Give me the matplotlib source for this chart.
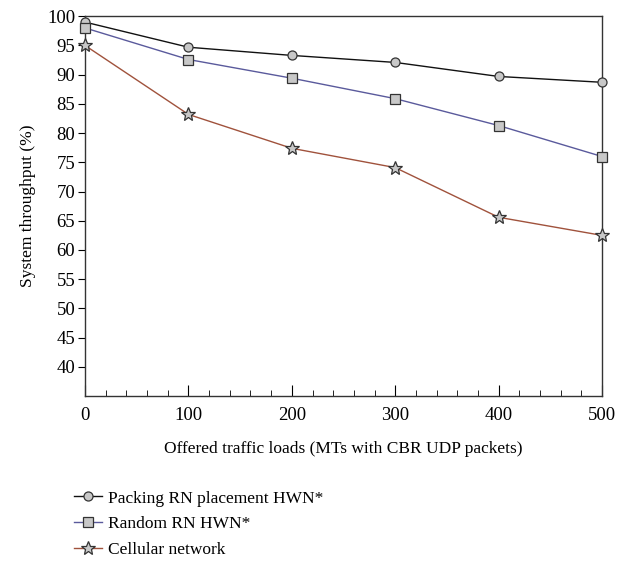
import numpy as np
import matplotlib.pyplot as plt
from matplotlib.ticker import MultipleLocator

plt.rcParams['font.family'] = ['Liberation Serif', 'DejaVu Serif']

loads = [0, 100, 200, 300, 400, 500]
packing = [99.0, 94.7, 93.3, 92.1, 89.7, 88.7]
random_rn = [98.0, 92.6, 89.4, 85.9, 81.3, 76.0]
cellular = [95.0, 83.2, 77.4, 74.1, 65.6, 62.5]

fig = plt.figure(figsize=(6.35, 5.61), dpi=100)
ax = fig.add_axes([0.134, 0.294, 0.814, 0.677])

mk = dict(markerfacecolor='#c8c8c8', markeredgecolor='#333333', markeredgewidth=0.9, clip_on=False, zorder=3)
ax.plot(loads, packing, color='#111111', lw=1.0, marker='o', markersize=6.5, label='Packing RN placement HWN*', **mk)
ax.plot(loads, random_rn, color='#5a5a9c', lw=1.0, marker='s', markersize=6.5, label='Random RN HWN*', **mk)
ax.plot(loads, cellular, color='#a0523c', lw=1.0, marker='*', markersize=10, label='Cellular network', **mk)

ax.set_xlim(0, 500)
ax.set_ylim(35, 100)
ax.set_yticks(np.arange(40, 101, 5))
ax.xaxis.set_major_locator(MultipleLocator(100))
ax.xaxis.set_minor_locator(MultipleLocator(20))
ax.tick_params(axis='x', which='major', direction='in', length=8, labelsize=13.5, pad=8)
ax.tick_params(axis='x', which='minor', direction='in', length=4)
ax.tick_params(axis='y', which='major', direction='out', length=5, labelsize=13.5, pad=2)
for s in ax.spines.values():
    s.set_color('#333333')
    s.set_linewidth(1.0)

ax.set_xlabel('Offered traffic loads (MTs with CBR UDP packets)', fontsize=12.5, labelpad=12)
ax.set_ylabel('System throughput (%)', fontsize=12.5, labelpad=8)

ax.legend(loc='upper left', bbox_to_anchor=(-0.035, -0.23), frameon=False, fontsize=12.5,
          handlelength=1.6, handletextpad=0.35, labelspacing=0.55, borderaxespad=0)

fig.savefig('out.png', dpi=100)
